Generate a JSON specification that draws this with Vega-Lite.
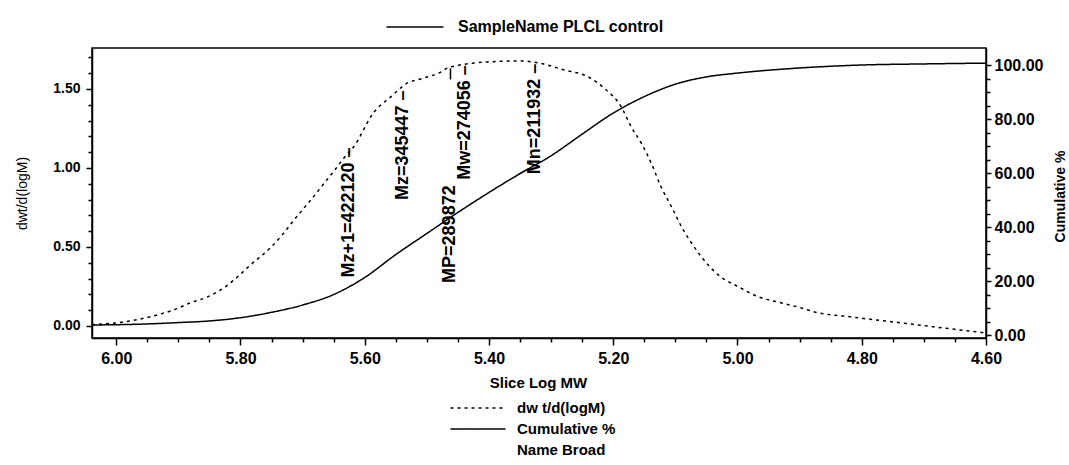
{
  "$schema": "https://vega.github.io/schema/vega-lite/v6.json",
  "width": 894,
  "height": 290,
  "autosize": {"type": "none"},
  "padding": {"left": 92, "top": 48, "right": 83, "bottom": 127},
  "background": "white",
  "title": {"text": "Minutes", "fontSize": 14, "fontWeight": "bold", "font": "Liberation Sans", "color": "black", "anchor": "middle", "frame": "group", "offset": 43, "dx": 25, "baseline": "alphabetic"},
  "config": {
    "view": {"stroke": "black", "strokeWidth": 1.5},
    "font": "Liberation Sans",
    "axis": {"labelFont": "Liberation Sans", "titleFont": "Liberation Sans", "labelFontWeight": "bold", "labelColor": "black", "titleColor": "black", "domainColor": "black", "tickColor": "black", "grid": false, "domainWidth": 1.5, "tickWidth": 1.5, "labelFlush": false, "labelOverlap": false},
    "legend": {"labelFont": "Liberation Sans", "labelColor": "black", "labelFontWeight": "bold", "padding": 0, "symbolStrokeColor": "black"}
  },
  "datasets": {
    "dw": [
      {"logM": 6.039, "dw": 0.008}, {"logM": 5.989, "dw": 0.025}, {"logM": 5.934, "dw": 0.07},
      {"logM": 5.908, "dw": 0.101}, {"logM": 5.881, "dw": 0.146}, {"logM": 5.853, "dw": 0.184},
      {"logM": 5.827, "dw": 0.241}, {"logM": 5.805, "dw": 0.31}, {"logM": 5.784, "dw": 0.386},
      {"logM": 5.752, "dw": 0.494}, {"logM": 5.732, "dw": 0.58}, {"logM": 5.715, "dw": 0.665},
      {"logM": 5.698, "dw": 0.745}, {"logM": 5.682, "dw": 0.82}, {"logM": 5.666, "dw": 0.9},
      {"logM": 5.65, "dw": 0.978}, {"logM": 5.634, "dw": 1.06}, {"logM": 5.618, "dw": 1.133},
      {"logM": 5.585, "dw": 1.354}, {"logM": 5.558, "dw": 1.45}, {"logM": 5.531, "dw": 1.538},
      {"logM": 5.51, "dw": 1.563}, {"logM": 5.477, "dw": 1.608}, {"logM": 5.466, "dw": 1.633},
      {"logM": 5.402, "dw": 1.671}, {"logM": 5.348, "dw": 1.677}, {"logM": 5.321, "dw": 1.665},
      {"logM": 5.279, "dw": 1.62}, {"logM": 5.24, "dw": 1.576}, {"logM": 5.215, "dw": 1.506},
      {"logM": 5.187, "dw": 1.386}, {"logM": 5.171, "dw": 1.259}, {"logM": 5.155, "dw": 1.158},
      {"logM": 5.139, "dw": 1.032}, {"logM": 5.123, "dw": 0.88}, {"logM": 5.106, "dw": 0.753},
      {"logM": 5.09, "dw": 0.627}, {"logM": 5.074, "dw": 0.525}, {"logM": 5.058, "dw": 0.437},
      {"logM": 5.031, "dw": 0.323}, {"logM": 4.998, "dw": 0.247}, {"logM": 4.966, "dw": 0.184},
      {"logM": 4.929, "dw": 0.146}, {"logM": 4.897, "dw": 0.114}, {"logM": 4.876, "dw": 0.089},
      {"logM": 4.816, "dw": 0.057}, {"logM": 4.735, "dw": 0.019}, {"logM": 4.655, "dw": -0.019},
      {"logM": 4.6, "dw": -0.044}
    ],
    "cum": [
      {"logM": 6.039, "cum": 3.7}, {"logM": 5.95, "cum": 4.1}, {"logM": 5.9, "cum": 4.6},
      {"logM": 5.85, "cum": 5.2}, {"logM": 5.8, "cum": 6.4}, {"logM": 5.75, "cum": 8.4},
      {"logM": 5.7, "cum": 11.1}, {"logM": 5.65, "cum": 15.0}, {"logM": 5.6, "cum": 21.3},
      {"logM": 5.55, "cum": 29.8}, {"logM": 5.5, "cum": 37.6}, {"logM": 5.45, "cum": 45.4},
      {"logM": 5.4, "cum": 52.8}, {"logM": 5.35, "cum": 59.8}, {"logM": 5.3, "cum": 66.4},
      {"logM": 5.25, "cum": 74.4}, {"logM": 5.2, "cum": 82.2}, {"logM": 5.15, "cum": 88.3},
      {"logM": 5.1, "cum": 92.9}, {"logM": 5.05, "cum": 95.6}, {"logM": 5.0, "cum": 97.0},
      {"logM": 4.9, "cum": 98.9}, {"logM": 4.8, "cum": 100.0}, {"logM": 4.7, "cum": 100.4},
      {"logM": 4.6, "cum": 100.7}
    ],
    "labels": [
      {"label": "Mz+1=422120 –", "logM": 5.625, "top": 1.13},
      {"label": "Mz=345447 –", "logM": 5.538, "top": 1.49},
      {"label": "MP=289872", "logM": 5.462, "top": 0.89},
      {"label": "Mw=274056 –", "logM": 5.438, "top": 1.65},
      {"label": "Mn=211932 –", "logM": 5.326, "top": 1.66}
    ],
    "ticks": [
      {"logM": 5.462, "y1": 1.56, "y2": 1.63}
    ]
  },
  "layer": [
    {
      "layer": [
        {
          "data": {"name": "dw"},
          "mark": {"type": "line", "strokeWidth": 1.5, "interpolate": "monotone"},
          "encoding": {
            "x": {"field": "logM", "type": "quantitative",
              "scale": {"domain": [4.6, 6.039], "reverse": true, "nice": false, "zero": false},
              "axis": {"orient": "bottom", "values": [6.0, 5.8, 5.6, 5.4, 5.2, 5.0, 4.8, 4.6], "format": ".2f", "labelFontSize": 16, "tickSize": 7, "labelPadding": 5,
                "title": "Slice Log MW", "titleFontSize": 15, "titleFontWeight": "bold", "titleX": 446, "titleY": 44, "titleBaseline": "middle", "titleAlign": "center"}},
            "y": {"field": "dw", "type": "quantitative",
              "scale": {"domain": [-0.076, 1.759], "nice": false, "zero": false},
              "axis": {"orient": "left", "values": [0, 0.5, 1.0, 1.5], "format": ".2f", "labelFontSize": 14, "tickSize": 6, "labelPadding": 6,
                "title": "dwt/d(logM)", "titleFontSize": 14, "titleFontWeight": "normal", "titleAngle": 270, "titleX": -70, "titleY": 145, "titleBaseline": "middle", "titleAlign": "center"}},
            "strokeDash": {"datum": "dw t/d(logM)", "type": "nominal",
              "scale": {"domain": ["dw t/d(logM)", "Cumulative %", "Name Broad"], "range": [[3, 4], [1, 0], [0, 100]]},
              "legend": {"orient": "none", "legendX": 378, "legendY": 352, "title": null, "symbolType": "M-4,0L4,0", "symbolSize": 189, "symbolStrokeWidth": 1.5, "labelFontSize": 15, "labelOffset": 31, "rowPadding": 5, "labelLimit": 300}},
            "color": {"datum": "SampleName PLCL control", "type": "nominal",
              "scale": {"range": ["black"]},
              "legend": {"orient": "none", "legendX": 315, "legendY": -29, "title": null, "symbolType": "M-4,0L4,0", "symbolSize": 203, "symbolStrokeWidth": 1.5, "labelFontSize": 16, "labelOffset": 35, "labelLimit": 400}}
          }
        },
        {
          "data": {"name": "labels"},
          "mark": {"type": "text", "angle": 270, "align": "right", "baseline": "middle", "fontSize": 18, "fontWeight": "bold", "font": "Liberation Sans", "color": "black"},
          "encoding": {
            "x": {"field": "logM", "type": "quantitative"},
            "y": {"field": "top", "type": "quantitative", "axis": null},
            "text": {"field": "label"}
          }
        },
        {
          "data": {"name": "ticks"},
          "mark": {"type": "rule", "color": "black", "strokeWidth": 1.5},
          "encoding": {
            "x": {"field": "logM", "type": "quantitative"},
            "y": {"field": "y1", "type": "quantitative",
              "axis": {"orient": "left", "values": [0.1, 0.2, 0.3, 0.4, 0.6, 0.7, 0.8, 0.9, 1.1, 1.2, 1.3, 1.4, 1.6, 1.7], "labels": false, "domain": false, "tickSize": 4, "title": null}},
            "y2": {"field": "y2"}
          }
        }
      ],
      "resolve": {"axis": {"y": "independent"}}
    },
    {
      "layer": [
        {
          "data": {"name": "cum"},
          "mark": {"type": "line", "strokeWidth": 1.5, "interpolate": "monotone"},
          "encoding": {
            "x": {"field": "logM", "type": "quantitative",
              "axis": {"orient": "bottom", "values": [6.05, 5.95, 5.9, 5.85, 5.75, 5.7, 5.65, 5.55, 5.5, 5.45, 5.35, 5.3, 5.25, 5.15, 5.1, 5.05, 4.95, 4.9, 4.85, 4.75, 4.7, 4.65], "labels": false, "domain": false, "tickSize": 4, "title": null}},
            "y": {"field": "cum", "type": "quantitative",
              "scale": {"domain": [-1.11, 106.3], "nice": false, "zero": false},
              "axis": {"orient": "right", "values": [0, 20, 40, 60, 80, 100], "format": ".2f", "labelFontSize": 16, "tickSize": 5, "labelPadding": 3,
                "title": "Cumulative %", "titleFontSize": 14, "titleFontWeight": "bold", "titleAngle": 270, "titleX": 74, "titleY": 148, "titleBaseline": "middle", "titleAlign": "center"}},
            "strokeDash": {"datum": "Cumulative %", "type": "nominal"},
            "color": {"datum": "SampleName PLCL control", "type": "nominal"}
          }
        },
        {
          "data": {"name": "cum"},
          "mark": {"type": "line", "opacity": 0},
          "encoding": {
            "x": {"field": "logM", "type": "quantitative"},
            "y": {"field": "cum", "type": "quantitative",
              "axis": {"orient": "right", "values": [5, 10, 15, 25, 30, 35, 45, 50, 55, 65, 70, 75, 85, 90, 95], "labels": false, "domain": false, "tickSize": 4, "title": null}}
          }
        }
      ],
      "resolve": {"axis": {"y": "independent"}}
    }
  ],
  "resolve": {"scale": {"y": "independent"}, "axis": {"x": "independent"}}
}
